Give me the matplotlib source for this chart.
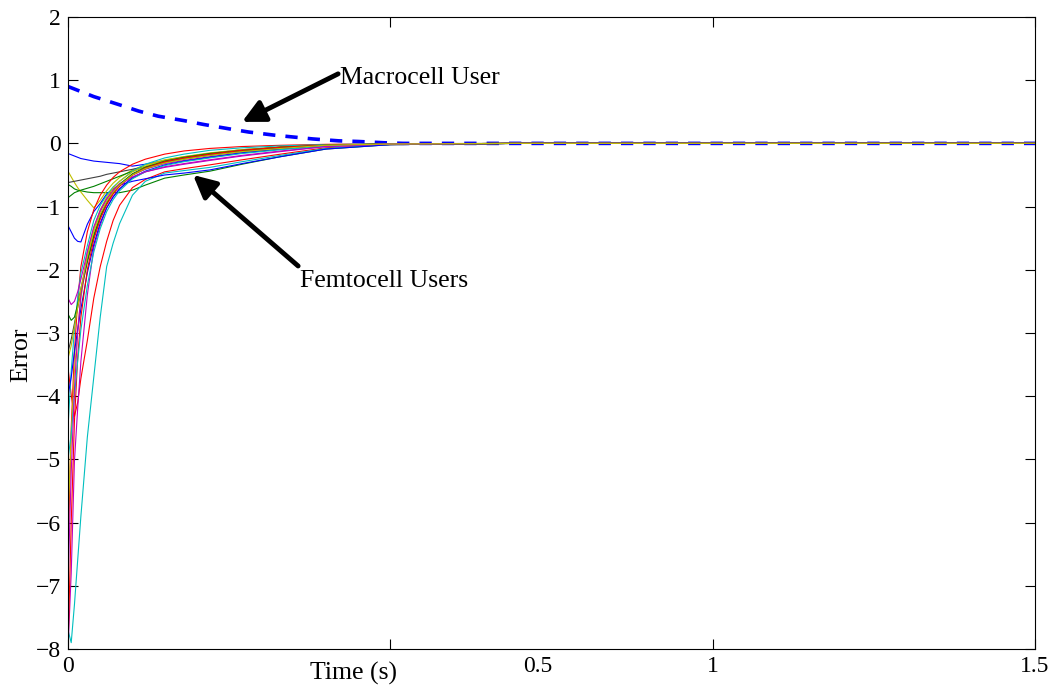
import numpy as np
import matplotlib
matplotlib.use("Agg")
import matplotlib.pyplot as plt
from matplotlib.transforms import ScaledTranslation

plt.rcParams['font.family'] = ['Liberation Serif', 'DejaVu Serif']

# -----------------------------
# Dados
# -----------------------------
t_macro = [0, 0.04, 0.08, 0.11, 0.14, 0.18, 0.21, 0.25, 0.28, 0.32, 0.35,
           0.38, 0.42, 0.45, 0.49, 0.52, 0.60, 1.00, 1.50]
macro_user = [0.90, 0.74, 0.61, 0.51, 0.43, 0.36, 0.30, 0.23, 0.18, 0.13, 0.10,
              0.07, 0.04, 0.03, 0.01, 0.0, 0.0, 0.0, 0.0]

t_femto = [0, 0.005, 0.01, 0.015, 0.02, 0.03, 0.04, 0.05, 0.06, 0.07, 0.08,
           0.10, 0.12, 0.15, 0.18, 0.22, 0.27, 0.33, 0.40, 0.50, 0.70, 1.50]

femto_01 = [-0.16, -0.18, -0.20, -0.22, -0.24, -0.26, -0.28, -0.29, -0.30, -0.31, -0.32,
            -0.36, -0.33, -0.27, -0.22, -0.16, -0.10, -0.06, -0.03, -0.01, 0, 0]
femto_02 = [-0.65, -0.68, -0.72, -0.74, -0.75, -0.77, -0.78, -0.78, -0.78, -0.78, -0.78,
            -0.74, -0.66, -0.55, -0.50, -0.44, -0.33, -0.21, -0.09, -0.02, 0, 0]
femto_03 = [-3.55, -3.98, -4.32, -4.10, -3.72, -3.12, -2.45, -1.95, -1.55, -1.22, -0.98,
            -0.70, -0.57, -0.45, -0.40, -0.34, -0.26, -0.17, -0.07, -0.02, 0, 0]
femto_04 = [-7.70, -7.90, -7.30, -6.60, -5.90, -4.65, -3.70, -2.75, -1.95, -1.58, -1.27,
            -0.82, -0.60, -0.47, -0.43, -0.38, -0.29, -0.19, -0.08, -0.02, 0, 0]
femto_05 = [-8.00, -6.80, -5.03, -4.20, -3.45, -2.40, -1.65, -1.30, -1.02, -0.84, -0.72,
            -0.55, -0.45, -0.37, -0.32, -0.26, -0.19, -0.12, -0.05, -0.01, 0, 0]
femto_06 = [-0.44, -0.53, -0.62, -0.70, -0.77, -0.90, -1.02, -0.90, -0.75, -0.63, -0.54,
            -0.42, -0.34, -0.26, -0.21, -0.16, -0.10, -0.06, -0.03, -0.01, 0, 0]
femto_07 = [-0.62, -0.61, -0.60, -0.59, -0.58, -0.56, -0.54, -0.52, -0.49, -0.47, -0.45,
            -0.41, -0.37, -0.30, -0.24, -0.17, -0.11, -0.06, -0.03, -0.01, 0, 0]
femto_08 = [-1.30, -1.40, -1.50, -1.55, -1.56, -1.28, -1.08, -0.95, -0.80, -0.72, -0.66,
            -0.60, -0.56, -0.50, -0.47, -0.42, -0.32, -0.21, -0.09, -0.02, 0, 0]
femto_09 = [-0.86, -0.82, -0.78, -0.76, -0.74, -0.71, -0.68, -0.64, -0.60, -0.56, -0.52,
            -0.44, -0.37, -0.30, -0.25, -0.19, -0.13, -0.08, -0.04, -0.01, 0, 0]
femto_10 = [-6.50, -4.50, -3.30, -2.50, -1.95, -1.40, -1.05, -0.82, -0.66, -0.54, -0.45,
            -0.33, -0.25, -0.17, -0.12, -0.08, -0.05, -0.03, -0.015, -0.005, 0, 0]
femto_11 = [-4.50, -3.60, -2.95, -2.45, -2.05, -1.62, -1.22, -0.98, -0.82, -0.69, -0.60,
            -0.44, -0.33, -0.23, -0.17, -0.11, -0.07, -0.04, -0.02, -0.005, 0, 0]
femto_12 = [-2.45, -2.55, -2.50, -2.35, -2.15, -1.72, -1.35, -1.08, -0.88, -0.74, -0.64,
            -0.50, -0.41, -0.32, -0.27, -0.21, -0.15, -0.09, -0.04, -0.01, 0, 0]
femto_13 = [-6.00, -4.60, -3.60, -2.95, -2.45, -1.80, -1.35, -1.05, -0.85, -0.71, -0.60,
            -0.45, -0.36, -0.27, -0.21, -0.15, -0.10, -0.06, -0.03, -0.01, 0, 0]
femto_14 = [-3.30, -3.10, -2.85, -2.60, -2.35, -1.88, -1.48, -1.17, -0.95, -0.79, -0.67,
            -0.50, -0.40, -0.30, -0.24, -0.18, -0.12, -0.07, -0.03, -0.01, 0, 0]
femto_15 = [-4.00, -3.70, -3.30, -2.95, -2.62, -2.05, -1.60, -1.26, -1.02, -0.85, -0.72,
            -0.54, -0.44, -0.34, -0.28, -0.22, -0.15, -0.09, -0.04, -0.01, 0, 0]
femto_16 = [-2.70, -2.80, -2.75, -2.55, -2.30, -1.85, -1.45, -1.15, -0.93, -0.77, -0.65,
            -0.48, -0.38, -0.28, -0.22, -0.16, -0.11, -0.06, -0.03, -0.01, 0, 0]
femto_17 = [-8.00, -6.00, -4.40, -3.40, -2.75, -2.00, -1.52, -1.20, -0.97, -0.80, -0.68,
            -0.50, -0.39, -0.29, -0.23, -0.17, -0.11, -0.06, -0.03, -0.01, 0, 0]
femto_18 = [-5.00, -4.60, -4.00, -3.45, -2.95, -2.25, -1.72, -1.35, -1.08, -0.89, -0.75,
            -0.56, -0.45, -0.35, -0.29, -0.23, -0.16, -0.10, -0.04, -0.01, 0, 0]
femto_19 = [-7.00, -5.20, -3.90, -3.00, -2.40, -1.72, -1.32, -1.06, -0.88, -0.75, -0.66,
            -0.53, -0.45, -0.38, -0.33, -0.27, -0.20, -0.13, -0.05, -0.01, 0, 0]
femto_20 = [-3.40, -3.20, -2.90, -2.60, -2.30, -1.80, -1.40, -1.12, -0.92, -0.77, -0.66,
            -0.50, -0.40, -0.31, -0.25, -0.19, -0.13, -0.08, -0.03, -0.01, 0, 0]

femto_curves = [femto_01, femto_02, femto_03, femto_04, femto_05, femto_06, femto_07,
                femto_08, femto_09, femto_10, femto_11, femto_12, femto_13, femto_14,
                femto_15, femto_16, femto_17, femto_18, femto_19, femto_20]

x_ticks = [0, 0.5, 1, 1.5]
x_ticklabels = ["0", "0.5", "1", "1.5"]
y_ticks = list(range(-8, 3))

# cores padrão do MATLAB antigo
cores = [(0, 0, 1), (0, 0.5, 0), (1, 0, 0), (0, 0.75, 0.75),
         (0.75, 0, 0.75), (0.75, 0.75, 0), (0.25, 0.25, 0.25)]

# -----------------------------
# Figura
# -----------------------------
fig = plt.figure(figsize=(10.59, 6.87), dpi=100)
ax = fig.add_axes([0.0642, 0.0553, 0.9131, 0.92])

ax.plot(t_macro, macro_user, color='blue', linewidth=2.6, linestyle=(0, (3.4, 2.8)))

for i, curva in enumerate(femto_curves):
    ax.plot(t_femto, curva, color=cores[i % len(cores)], linewidth=0.8)

ax.set_xlim(0, 1.5)
ax.set_ylim(-8, 2)
ax.set_xticks(x_ticks)
ax.set_xticklabels(x_ticklabels)
ax.set_yticks(y_ticks)

ax.tick_params(direction='in', length=7, width=0.8, labelsize=17,
               top=True, right=True, pad=5)
for s in ax.spines.values():
    s.set_linewidth(0.8)

# o rótulo "0.5" aparece deslocado para a direita no original
lbl = ax.xaxis.get_major_ticks()[1].label1
lbl.set_transform(lbl.get_transform() + ScaledTranslation(1.47, 0, fig.dpi_scale_trans))

ax.set_xlabel("Time (s)", fontsize=18.5)
ax.xaxis.set_label_coords(0.295, -0.020)
ax.set_ylabel("Error", fontsize=18.5)
ax.yaxis.set_label_coords(-0.037, 0.465)

# setas
seta = dict(arrowstyle='-|>', color='black', lw=3.5, mutation_scale=34,
            shrinkA=0, shrinkB=0)
ax.annotate("", xy=(0.270, 0.34), xytext=(0.419, 1.10), arrowprops=seta)
ax.text(0.422, 1.035, "Macrocell User", fontsize=18.5, va='center', ha='left')
ax.annotate("", xy=(0.194, -0.50), xytext=(0.357, -1.94), arrowprops=seta)
ax.text(0.360, -2.18, "Femtocell Users", fontsize=18.5, va='center', ha='left')

plt.savefig("out.png", dpi=100)
plt.close()
